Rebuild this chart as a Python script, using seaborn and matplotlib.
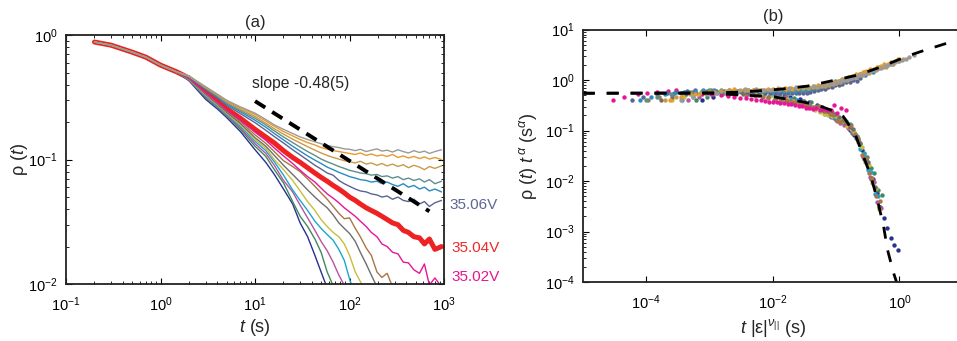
import matplotlib
matplotlib.use("Agg")
import matplotlib.pyplot as plt
import matplotlib.ticker as tkr
import numpy as np
import pandas as pd
import seaborn as sns

sns.set_style("ticks")
plt.rcParams['font.family'] = ['Liberation Sans', 'DejaVu Sans']
plt.rcParams['mathtext.fontset'] = 'custom'
plt.rcParams['mathtext.rm'] = 'Liberation Sans'
plt.rcParams['mathtext.it'] = 'Liberation Sans:italic'
plt.rcParams['mathtext.bf'] = 'Liberation Sans:bold'

# ---------------- data ----------------
# all curves coincide at early times
t_early = [0.2, 0.3, 0.5, 0.7, 1.0, 1.5]
rho_early = [0.88, 0.83, 0.73, 0.665, 0.574, 0.505]

t_late = [2, 3, 4, 5, 7, 10, 13, 16, 20, 25, 30, 36, 43, 50, 58, 67, 77, 88, 100, 115,
          130, 150, 170, 195, 220, 250, 285, 325, 370, 420, 480, 550, 620, 700, 800, 940]

rho_gray = [0.47, 0.385, 0.335, 0.3, 0.265, 0.236, 0.21, 0.19, 0.175, 0.162, 0.152, 0.145,
            0.139, 0.134, 0.13, 0.127, 0.125, 0.122, 0.121, 0.118, 0.121, 0.116, 0.119, 0.122,
            0.117, 0.119, 0.115, 0.12, 0.116, 0.113, 0.118, 0.114, 0.117, 0.112, 0.116, 0.12]
rho_orange = [0.468, 0.382, 0.332, 0.296, 0.26, 0.23, 0.204, 0.185, 0.168, 0.155, 0.145, 0.137,
              0.131, 0.125, 0.121, 0.118, 0.116, 0.114, 0.112, 0.11, 0.113, 0.108, 0.111, 0.107,
              0.109, 0.106, 0.11, 0.104, 0.107, 0.103, 0.106, 0.102, 0.105, 0.101, 0.104, 0.1]
rho_golden = [0.466, 0.378, 0.328, 0.291, 0.254, 0.222, 0.196, 0.177, 0.16, 0.146, 0.136, 0.127,
              0.119, 0.113, 0.108, 0.104, 0.101, 0.098, 0.096, 0.094, 0.097, 0.092, 0.094, 0.09,
              0.093, 0.089, 0.092, 0.088, 0.091, 0.086, 0.09, 0.087, 0.083, 0.088, 0.085, 0.089]
rho_teal = [0.464, 0.374, 0.323, 0.286, 0.248, 0.215, 0.19, 0.17, 0.152, 0.137, 0.126, 0.116,
            0.108, 0.101, 0.096, 0.092, 0.088, 0.085, 0.082, 0.08, 0.078, 0.077, 0.075, 0.076,
            0.073, 0.074, 0.071, 0.073, 0.069, 0.071, 0.068, 0.07, 0.066, 0.069, 0.064, 0.067]
rho_blue = [0.462, 0.37, 0.318, 0.28, 0.242, 0.207, 0.182, 0.162, 0.144, 0.128, 0.117, 0.107,
            0.099, 0.093, 0.087, 0.083, 0.079, 0.076, 0.073, 0.071, 0.069, 0.068, 0.066, 0.067,
            0.064, 0.066, 0.063, 0.061, 0.064, 0.06, 0.062, 0.058, 0.06, 0.056, 0.058, 0.055]
rho_slate = [0.46, 0.365, 0.312, 0.273, 0.234, 0.198, 0.172, 0.153, 0.136, 0.12, 0.109, 0.099,
             0.09, 0.084, 0.078, 0.075, 0.068, 0.064, 0.061, 0.058, 0.056, 0.055, 0.053, 0.052,
             0.05, 0.051, 0.048, 0.05, 0.047, 0.046, 0.048, 0.044, 0.046, 0.042, 0.045, 0.047]
rho_red = [0.452, 0.35, 0.295, 0.256, 0.215, 0.175, 0.152, 0.136, 0.118, 0.104, 0.095, 0.086,
           0.078, 0.072, 0.067, 0.062, 0.058, 0.054, 0.05, 0.047, 0.044, 0.041, 0.039, 0.037,
           0.035, 0.033, 0.031, 0.03, 0.027, 0.026, 0.024, 0.0235, 0.021, 0.023, 0.019, 0.02]
rho_magenta = [0.45, 0.345, 0.29, 0.25, 0.208, 0.166, 0.143, 0.124, 0.107, 0.093, 0.082, 0.073,
               0.066, 0.059, 0.053, 0.049, 0.045, 0.041, 0.038, 0.035, 0.032, 0.029, 0.026, 0.024,
               0.021, 0.02, 0.018, 0.0175, 0.015, 0.0148, 0.013, 0.0122, 0.0145, 0.0098, 0.0112, 0.0095]
rho_brown = [0.447, 0.34, 0.284, 0.245, 0.201, 0.158, 0.135, 0.116, 0.098, 0.088, 0.08, 0.07,
             0.061, 0.054, 0.048, 0.042, 0.037, 0.0335, 0.034, 0.028, 0.024, 0.0195, 0.017, 0.0125,
             0.0113, 0.0122, 0.0095, 0.0082, 0.0049, 0.0039, 0.0017, 0.0014, 0.00065, 0.0005,
             0.0002, 0.00015]
rho_dkgray = [0.445, 0.335, 0.279, 0.24, 0.195, 0.15, 0.128, 0.108, 0.09, 0.076, 0.066, 0.057,
              0.05, 0.045, 0.041, 0.036, 0.031, 0.028, 0.0255, 0.022, 0.018, 0.0145, 0.0118, 0.0095,
              0.0079, 0.0048, 0.0037, 0.0017, 0.0014, 0.0006, 0.0004, 0.00015]
rho_olive = [0.443, 0.33, 0.275, 0.236, 0.19, 0.145, 0.123, 0.1, 0.083, 0.068, 0.056, 0.046,
             0.039, 0.033, 0.029, 0.026, 0.024, 0.021, 0.017, 0.0125, 0.0105, 0.0086, 0.0051,
             0.0038, 0.0018, 0.0015, 0.0006, 0.00045, 0.00016]
rho_cyan = [0.44, 0.325, 0.27, 0.232, 0.185, 0.14, 0.118, 0.096, 0.075, 0.057, 0.047, 0.039,
            0.032, 0.028, 0.025, 0.0225, 0.019, 0.0155, 0.011, 0.0079, 0.0042, 0.0031, 0.0014,
            0.0012, 0.00042, 0.00035]
rho_orchid = [0.437, 0.32, 0.266, 0.228, 0.18, 0.134, 0.112, 0.09, 0.068, 0.055, 0.043, 0.034,
              0.027, 0.022, 0.0185, 0.015, 0.0118, 0.0098, 0.0066, 0.0031, 0.0025, 0.0011,
              0.0008, 0.0003, 0.00022]
rho_green = [0.434, 0.315, 0.262, 0.224, 0.175, 0.128, 0.106, 0.083, 0.065, 0.046, 0.035, 0.029,
             0.023, 0.018, 0.0125, 0.0097, 0.0066, 0.0042, 0.0033, 0.0019, 0.0014, 0.0006, 0.00045]
rho_navy = [0.43, 0.305, 0.255, 0.218, 0.168, 0.12, 0.095, 0.076, 0.058, 0.044, 0.031, 0.024,
            0.017, 0.0125, 0.0093, 0.0056, 0.0034, 0.0021, 0.0012, 0.0006, 0.0003, 0.00017,
            0.0001, 6e-05, 4e-05, 3e-05]

# |epsilon|^nu_par for each off-critical run (red = critical, not rescaled)
eps_nu = {'gray': 1.8e-3, 'orange': 1.2e-3, 'golden': 1.0e-3, 'teal': 5e-4, 'blue': 4e-4,
          'slate': 3e-4, 'magenta': 1.5e-4, 'brown': 5.3e-4, 'dkgray': 8.5e-4, 'olive': 1.3e-3,
          'cyan': 1.85e-3, 'orchid': 2.3e-3, 'green': 3.1e-3, 'navy': 3.8e-3}
alpha = 0.48

# guide line with the fitted slope
slope_t = [10, 700]
slope_rho0 = 0.295

# scaling functions (dashed) in panel (b)
up_x = [1e-5, 1e-3, 3.1e-3, 0.013, 0.035, 0.081, 0.22, 0.5, 1.34, 2.57, 8]
up_y = [0.55, 0.56, 0.578, 0.66, 0.76, 0.955, 1.26, 1.81, 3.0, 3.95, 6.2]
low_x = [1e-5, 1e-3, 0.01, 0.03, 0.05, 0.08, 0.13, 0.2, 0.26, 0.35, 0.45, 0.56, 0.65, 0.81, 0.9]
low_y = [0.55, 0.55, 0.47, 0.37, 0.32, 0.26, 0.19, 0.085, 0.035, 0.013, 0.0042, 0.0013,
         0.00043, 0.00015, 0.0001]

colors = {'navy': '#27318f', 'green': '#3f8a5e', 'orchid': '#b6559e', 'cyan': '#1aa6d0',
          'olive': '#cbbd3b', 'dkgray': '#6e6e6e', 'brown': '#a87545', 'magenta': '#e6159a',
          'red': '#ee2222', 'slate': '#5b6490', 'blue': '#2a8ac2', 'teal': '#5f8f8a',
          'golden': '#c99a48', 'orange': '#e89a2c', 'gray': '#9a9a9a'}
# drawing order: critical (red) run first, the thin runs over it, grey last
series = {'red': rho_red, 'navy': rho_navy, 'green': rho_green, 'orchid': rho_orchid,
          'cyan': rho_cyan, 'olive': rho_olive, 'dkgray': rho_dkgray, 'brown': rho_brown,
          'magenta': rho_magenta, 'slate': rho_slate, 'blue': rho_blue, 'teal': rho_teal,
          'golden': rho_golden, 'orange': rho_orange, 'gray': rho_gray}

rows = []
for name, vals in series.items():
    tt = t_early + t_late[:len(vals)]
    rr = rho_early + vals
    for t, r in zip(tt, rr):
        rows.append((name, t, r))
df = pd.DataFrame(rows, columns=['curve', 't', 'rho'])

df_b = df[df['curve'] != 'red'].copy()
df_b['x'] = df_b['t'] * df_b['curve'].map(eps_nu)
df_b['y'] = df_b['rho'] * df_b['t'] ** alpha

# ---------------- figure ----------------
fig = plt.figure(figsize=(9.57, 3.41), dpi=100)
ax_a = fig.add_axes([0.069, 0.167, 0.395, 0.730])
ax_b = fig.add_axes([0.609, 0.173, 0.397, 0.740])

for name in series:
    d = df[df['curve'] == name]
    sns.lineplot(x=d['t'].values, y=d['rho'].values, color=colors[name],
                 lw=3.6 if name == 'red' else 1.0, estimator=None, sort=False, ax=ax_a)
ax_a.set(xscale='log', yscale='log')
ax_a.set_xlim(0.1, 1000)
ax_a.set_ylim(0.01, 1)

sl_t = np.array(slope_t, dtype=float)
ax_a.plot(sl_t, slope_rho0 * (sl_t / sl_t[0]) ** (-alpha), color='black', lw=2.8,
          dashes=(3.1, 2.1), dash_capstyle='butt')
ax_a.text(9.2, 0.41, 'slope -0.48(5)', fontsize=11.3, va='center', ha='left')

ax_a.set_xlabel(r'$\mathit{t}$ (s)', fontsize=13, labelpad=2)
ax_a.set_ylabel(r'ρ ($\mathit{t}$)', fontsize=13, labelpad=-1)
ax_a.set_title('(a)', fontsize=12, pad=6)

# panel (b): rescaled data collapse
b_order = ['navy', 'green', 'orchid', 'cyan', 'olive', 'dkgray', 'brown', 'magenta',
           'slate', 'blue', 'teal', 'golden', 'orange', 'gray']
for name in b_order:
    d = df_b[df_b['curve'] == name]
    sns.scatterplot(x=d['x'].values, y=d['y'].values, color=colors[name], s=10,
                    linewidth=0, ax=ax_b)
ax_b.plot(up_x, up_y, color='black', lw=2.0, dashes=(4.3, 4.3))
ax_b.plot(low_x, low_y, color='black', lw=2.0, dashes=(4.3, 4.3))
ax_b.set(xscale='log', yscale='log')
ax_b.set_xlim(1e-5, 10)
ax_b.set_ylim(1e-4, 10)
ax_b.xaxis.set_major_locator(tkr.FixedLocator([1e-4, 1e-2, 1]))
ax_b.xaxis.set_minor_locator(tkr.NullLocator())
ax_b.set_xlabel(r'$\mathit{t}$ |ε|$^{ν_{||}}$ (s)', fontsize=13, labelpad=4)
ax_b.set_ylabel(r'ρ ($\mathit{t}$) $\mathit{t}^{\,α}$ (s$^{α}$)', fontsize=13, labelpad=4)
ax_b.set_title('(b)', fontsize=12, pad=6)

for ax in (ax_a, ax_b):
    ax.tick_params(which='both', direction='in', top=True, right=True, labelsize=10.5,
                   colors='black')
    ax.tick_params(which='major', length=4, width=0.8)
    ax.tick_params(which='minor', length=2, width=0.6)
    ax.tick_params(axis='x', which='major', pad=8)
    ax.tick_params(axis='y', which='major', pad=6)
    for sp in ax.spines.values():
        sp.set_visible(True)
        sp.set_linewidth(1.3)
        sp.set_color('#222222')
ax_a.yaxis.set_major_locator(tkr.LogLocator(base=10, numticks=10))
ax_a.xaxis.set_major_locator(tkr.LogLocator(base=10, numticks=10))

fig.text(0.470, 0.399, '35.06V', color='#5c6794', fontsize=11, va='center')
fig.text(0.472, 0.273, '35.04V', color='#ee2a2a', fontsize=11, va='center')
fig.text(0.472, 0.188, '35.02V', color='#e6158f', fontsize=11, va='center')

fig.savefig('out.png', dpi=100)
